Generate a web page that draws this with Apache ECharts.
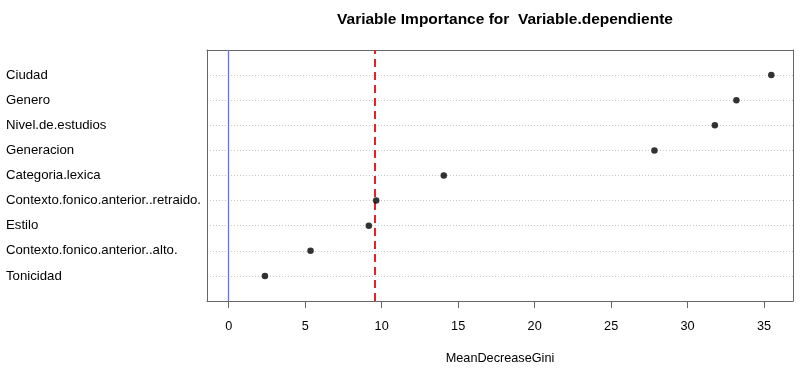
<!DOCTYPE html>
<html>
<head>
<meta charset="utf-8">
<script src="https://cdn.jsdelivr.net/npm/echarts@6/dist/echarts.min.js"></script>
<style>
  html, body { margin: 0; padding: 0; background: #fff; }
  #chart { width: 800px; height: 371px; }
</style>
</head>
<body>
<div id="chart"></div>
<script>
// variables, top to bottom as in the plot
const variables = [
  'Ciudad',
  'Genero',
  'Nivel.de.estudios',
  'Generacion',
  'Categoria.lexica',
  'Contexto.fonico.anterior..retraido.',
  'Estilo',
  'Contexto.fonico.anterior..alto.',
  'Tonicidad'
]
const meanDecreaseGini = [35.47, 33.19, 31.78, 27.83, 14.06, 9.64, 9.16, 5.35, 2.37]
const xTicks = [0, 5, 10, 15, 20, 25, 30, 35]
const zeroLine = 0
const cutLine = 9.52

const chart = echarts.init(document.getElementById('chart'))
const n = variables.length
const points = meanDecreaseGini.map(function(v, i) {
  return [v, n - i]
})
const xMax = Math.max.apply(null, meanDecreaseGini)
const pad = xMax * 0.04

const option = {
  animation: false,
  textStyle: { fontFamily: 'Liberation Sans, Arial, sans-serif' },
  title: {
    text: 'Variable Importance for  Variable.dependiente',
    left: 500,
    textAlign: 'center',
    top: 7,
    textStyle: { fontSize: 15.5, fontWeight: 'bold', color: '#000', fontFamily: 'Liberation Sans' }
  },
  grid: {
    left: 207,
    right: 7,
    top: 50,
    bottom: 70,
    show: false
  },
  xAxis: [
    {
      type: 'value',
      min: -pad,
      max: xMax + pad,
      name: 'MeanDecreaseGini',
      nameLocation: 'middle',
      nameGap: 51,
      nameTextStyle: { fontSize: 12.7, color: '#000' },
      axisLine: { show: true, onZero: false, lineStyle: { color: '#666', width: 1 } },
      axisTick: { show: true, length: 7, customValues: xTicks, lineStyle: { color: '#666' } },
      axisLabel: { customValues: xTicks, fontSize: 12.7, color: '#000', margin: 19 },
      splitLine: { show: false }
    },
    {
      type: 'value',
      position: 'top',
      min: -pad,
      max: xMax + pad,
      axisLine: { show: true, onZero: false, lineStyle: { color: '#666', width: 1 } },
      axisTick: { show: false },
      axisLabel: { show: false },
      splitLine: { show: false }
    }
  ],
  yAxis: [
    {
      type: 'value',
      min: 0,
      max: n + 1,
      interval: 1,
      axisLine: { show: true, onZero: false, lineStyle: { color: '#666', width: 1 } },
      axisTick: { show: false },
      axisLabel: {
        align: 'left',
        margin: 201,
        fontSize: 13.2,
        color: '#000',
        formatter: function(v) {
          const i = n - v
          return i >= 0 && i < n ? variables[i] : ''
        }
      },
      splitLine: {
        show: true,
        lineStyle: { color: '#c8c8c8', type: [1, 2], width: 1 }
      }
    },
    {
      type: 'value',
      position: 'right',
      min: 0,
      max: n + 1,
      axisLine: { show: true, onZero: false, lineStyle: { color: '#666', width: 1 } },
      axisTick: { show: false },
      axisLabel: { show: false },
      splitLine: { show: false }
    }
  ],
  series: [
    {
      type: 'scatter',
      data: points,
      symbol: 'circle',
      symbolSize: 6.5,
      itemStyle: { color: '#000' },
      z: 5,
      markLine: {
        silent: true,
        symbol: 'none',
        label: { show: false },
        data: [
          { xAxis: zeroLine, lineStyle: { color: '#7070e6', width: 1.3, type: 'solid' } },
          { xAxis: cutLine, lineStyle: { color: '#e8202a', width: 2, type: [8, 5] } }
        ]
      }
    }
  ]
}
chart.setOption(option)
window.addEventListener('resize', function() {
  chart.resize()
})
</script>
</body>
</html>
